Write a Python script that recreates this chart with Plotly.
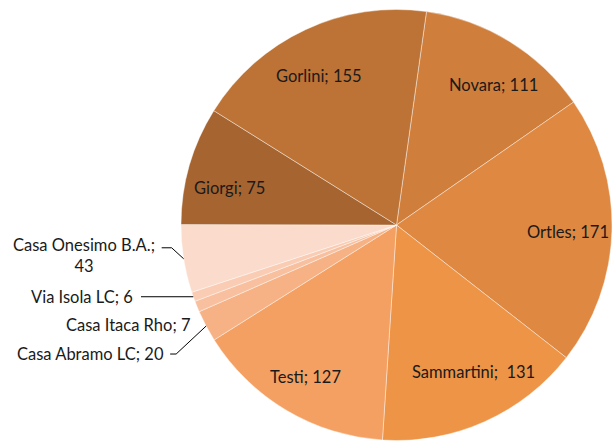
import math
import plotly.graph_objects as go

W, H = 612, 443

labels = ["Novara", "Ortles", "Sammartini", "Testi", "Casa Abramo LC",
          "Casa Itaca Rho", "Via Isola LC", "Casa Onesimo B.A.", "Giorgi", "Gorlini"]
values = [111, 171, 131, 127, 20, 7, 6, 43, 75, 155]
colors = ["#CF7E3B", "#DF8841", "#EE9446", "#F4A062", "#F6B285",
          "#F8C09F", "#FACCB3", "#FBDBCB", "#A66430", "#BC7335"]

# texte affiché dans / à côté de chaque part
label_text = ["Novara; 111", "Ortles; 171", "Sammartini;  131", "Testi; 127",
              "Casa Abramo LC; 20", "Casa Itaca Rho; 7", "Via Isola LC; 6",
              "Casa Onesimo B.A.;<br>43", "Giorgi; 75", "Gorlini; 155"]
outside = {"Casa Abramo LC", "Casa Itaca Rho", "Via Isola LC", "Casa Onesimo B.A."}

ROTATION = 8
dom_x = [181 / W, 1.0]
dom_y = [1 - 440.5 / H, 1 - 9.5 / H]

cx = (dom_x[0] + dom_x[1]) / 2 * W
cy = (1 - (dom_y[0] + dom_y[1]) / 2) * H
R = min((dom_x[1] - dom_x[0]) * W, (dom_y[1] - dom_y[0]) * H) / 2

# petits décalages (px) pour coller au placement d'Excel
nudge = {"Novara": (8, 5), "Sammartini": (7, -8), "Testi": (-4, 6),
         "Giorgi": (-3, 10), "Gorlini": (-6, 5), "Ortles": (1, 2)}


def to_paper(px, py):
    return px / W, 1 - py / H


def polar(ang_deg, r):
    a = math.radians(ang_deg)
    return cx + r * math.sin(a), cy - r * math.cos(a)


fig = go.Figure(go.Pie(
    labels=labels, values=values, sort=False, direction="clockwise",
    rotation=ROTATION, textinfo="none", hoverinfo="label+value",
    marker=dict(colors=colors, line=dict(color="rgba(255,255,255,0.6)", width=0.7)),
    domain=dict(x=dom_x, y=dom_y), showlegend=False,
))

font = dict(family="Lato, Open Sans, sans-serif", size=16.5, color="#1a1a1a")
total = sum(values)
cum = 0
annotations, shapes = [], []
for lab, val, txt in zip(labels, values, label_text):
    mid = ROTATION + (cum + val / 2) / total * 360
    cum += val
    if lab not in outside:
        x, y = polar(mid, 0.79 * R)
        dx, dy = nudge.get(lab, (0, 0))
        px_, py_ = to_paper(x + dx, y + dy)
        annotations.append(dict(x=px_, y=py_, xref="paper", yref="paper", text=txt,
                                showarrow=False, font=font,
                                xanchor="center", yanchor="middle"))
        continue
    ex, ey = polar(mid, R)
    if lab == "Casa Onesimo B.A.":
        tx, ty = 84, 255
        path = [(ex, ey), (ex - 12, ey - 11), (ex - 22, ey - 11)]
        align, xanchor = "center", "center"
    elif lab == "Via Isola LC":
        tx, ty = 135, 297
        path = [(ex, ey), (141, ey)]
        align, xanchor = "right", "right"
    elif lab == "Casa Itaca Rho":
        tx, ty = 193, 325
        path = None
        align, xanchor = "right", "right"
    else:
        tx, ty = 166, 354
        path = [(ex, ey), (ex - 30, ey + 28), (ex - 36, ey + 28)]
        align, xanchor = "right", "right"
    px_, py_ = to_paper(tx, ty)
    annotations.append(dict(x=px_, y=py_, xref="paper", yref="paper", text=txt,
                            showarrow=False, font=font, align=align,
                            xanchor=xanchor, yanchor="middle"))
    if path:
        d = "M " + " L ".join(f"{to_paper(a, b)[0]:.5f},{to_paper(a, b)[1]:.5f}" for a, b in path)
        shapes.append(dict(type="path", path=d, xref="paper", yref="paper",
                           line=dict(color="#000000", width=1)))

fig.update_layout(
    width=W, height=H, margin=dict(l=0, r=0, t=0, b=0),
    paper_bgcolor="white", plot_bgcolor="white",
    annotations=annotations, shapes=shapes,
)
fig.write_html("out.html", config={"displayModeBar": False},
               post_script="document.body.style.margin='0';")
